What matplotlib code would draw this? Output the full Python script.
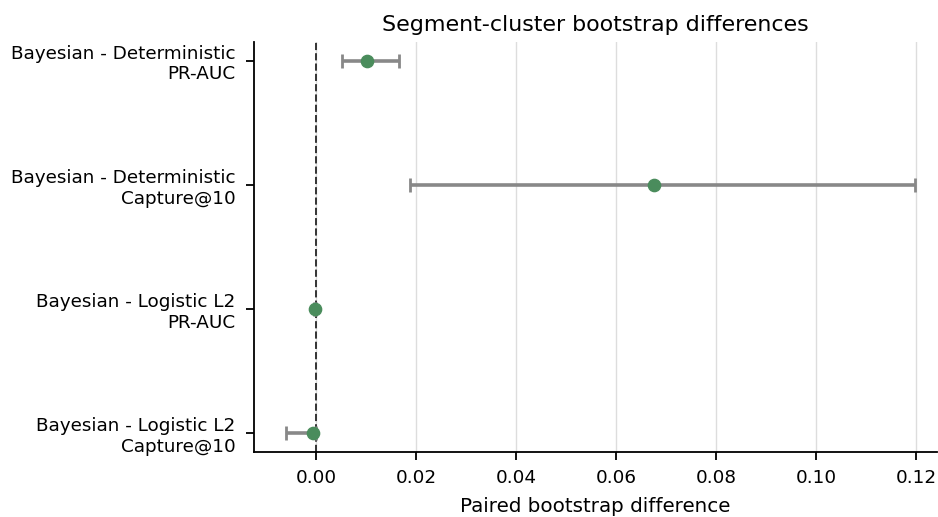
import matplotlib
matplotlib.use("Agg")
import matplotlib.pyplot as plt
import numpy as np

labels = ["Bayesian - Deterministic\nPR-AUC", "Bayesian - Deterministic\nCapture@10",
          "Bayesian - Logistic L2\nPR-AUC", "Bayesian - Logistic L2\nCapture@10"]
estimates = [0.0102, 0.0676, -0.0002, -0.0006]
ci_low = [0.0052, 0.0188, -0.0004, -0.0060]
ci_high = [0.0166, 0.1198, 0.0000, 0.0000]
xticks = [0.0, 0.02, 0.04, 0.06, 0.08, 0.10, 0.12]

fig = plt.figure(figsize=(9.38, 5.17), dpi=100)
ax = fig.add_axes([0.2708, 0.1257, 0.728, 0.7931])

y = np.arange(len(labels))
est = np.array(estimates)
xerr = np.array([est - np.array(ci_low), np.array(ci_high) - est])
ax.errorbar(est, y, xerr=xerr, fmt="none", ecolor="#888888", elinewidth=2.6,
            capsize=5, capthick=2, zorder=2)
ax.scatter(est, y, s=78, color="#4a8c5c", zorder=3)
ax.axvline(0, color="#333333", linestyle="--", linewidth=1.4, zorder=1)

ax.set_yticks(y)
ax.set_yticklabels(labels, fontsize=13.2)
ax.set_ylim(3.15, -0.15)
ax.set_xlim(-0.0124, 0.1242)
ax.set_xticks(xticks)
ax.set_xticklabels([f"{v:.2f}" for v in xticks], fontsize=13.2)
ax.tick_params(axis="both", length=5.5, width=1.3)
ax.tick_params(axis="y", pad=8)
ax.tick_params(axis="x", pad=7)
ax.grid(axis="x", color="#dddddd", linewidth=1)
ax.set_axisbelow(True)
for s in ["top", "right"]:
    ax.spines[s].set_visible(False)
for s in ["left", "bottom"]:
    ax.spines[s].set_linewidth(1.3)
ax.set_xlabel("Paired bootstrap difference", fontsize=14.3, labelpad=7)
ax.set_title("Segment-cluster bootstrap differences", fontsize=15.9, pad=8)

fig.savefig("out.png", dpi=100)
